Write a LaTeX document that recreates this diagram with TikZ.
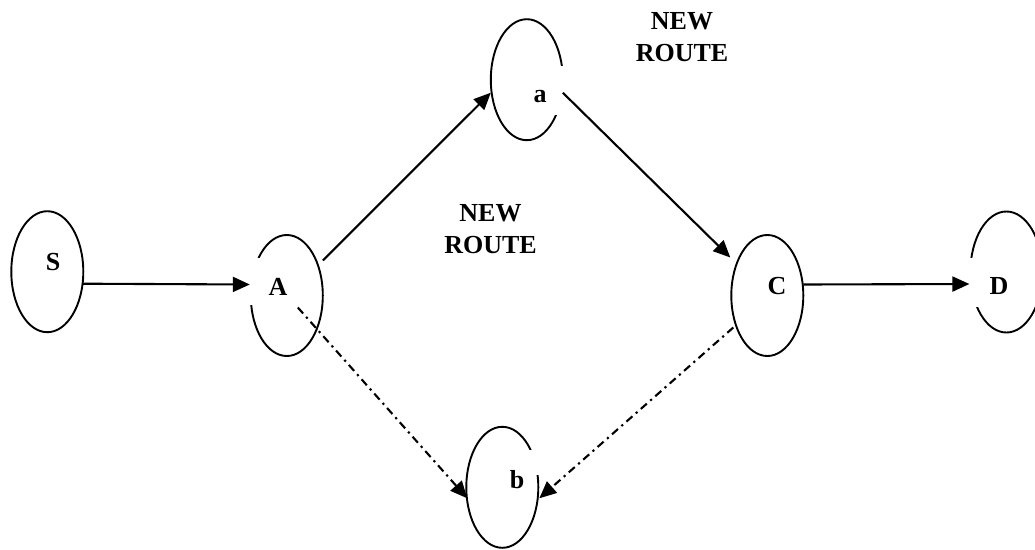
\documentclass[tikz,border=0pt]{standalone}
\usepackage{fontspec}
\setmainfont{Liberation Serif}
\usetikzlibrary{arrows.meta,calc,shapes.geometric}
\begin{document}
\begin{tikzpicture}[x=1pt,y=-1pt,
  state/.style={ellipse,draw,line width=1.9pt,minimum width=72pt,minimum height=121pt,inner sep=0pt},
  lbl/.style={font=\fontsize{26}{31}\selectfont\bfseries,inner sep=0pt},
  route/.style={font=\fontsize{26}{32}\selectfont\bfseries,align=center,inner sep=0pt},
  gapfill/.style={fill=white},
  arr/.style={line width=2.1pt,-{Triangle[length=17pt,width=15pt]}},
  dasharr/.style={arr,dash pattern=on 8pt off 4.5pt on 2.2pt off 4.5pt}]
\useasboundingbox (0,0) rectangle (1035,549);
\clip (0,0) rectangle (1035,549);
% ellipses
\node[state] (S) at (47.3,271.7) {};
\node[state] (A) at (286.8,295.5) {};
\node[state] (a) at (526.8,79.7) {};
\node[state] (C) at (767.3,295.5) {};
\node[state] (D) at (1006.4,272) {};
\node[state] (b) at (502.3,487.3) {};
% gaps in outlines
\fill[gapfill] (247,258) rectangle (262,305);
\fill[gapfill] (550,66) rectangle (567,115);
\fill[gapfill] (966,258) rectangle (985,307);
\fill[gapfill] (526,450) rectangle (543,475);
% labels
\node[lbl] (Sl) at (53,262) {S};
\node[lbl] (Al) at (278,287) {A};
\node[lbl] (al) at (540,97) {a};
\node[lbl] (Cl) at (777,286) {C};
\node[lbl] (Dl) at (999,286) {D};
\node[lbl] (bl) at (517,480) {b};
\node[route] (r1) at (682,37.5) {NEW\\ROUTE};
\node[route] (r2) at (490.5,229) {NEW\\ROUTE};
% connectors
\draw[arr] ($(S)+(35.5,12)$) -- ($(A)+(-37,-11)$);
\draw[arr] ($(A)+(36,-35)$) -- ($(a)+(-36,13)$);
\draw[arr] ($(a)+(36,13)$) -- ($(C)+(-37,-38)$);
\draw[arr] ($(C)+(36,-11)$) -- ($(D)+(-37,12)$);
\draw[dasharr] ($(A)+(11,12)$) -- ($(b)+(-35,11)$);
\draw[dasharr] ($(C)+(-34,32)$) -- ($(b)+(37,11)$);
\end{tikzpicture}
\end{document}
